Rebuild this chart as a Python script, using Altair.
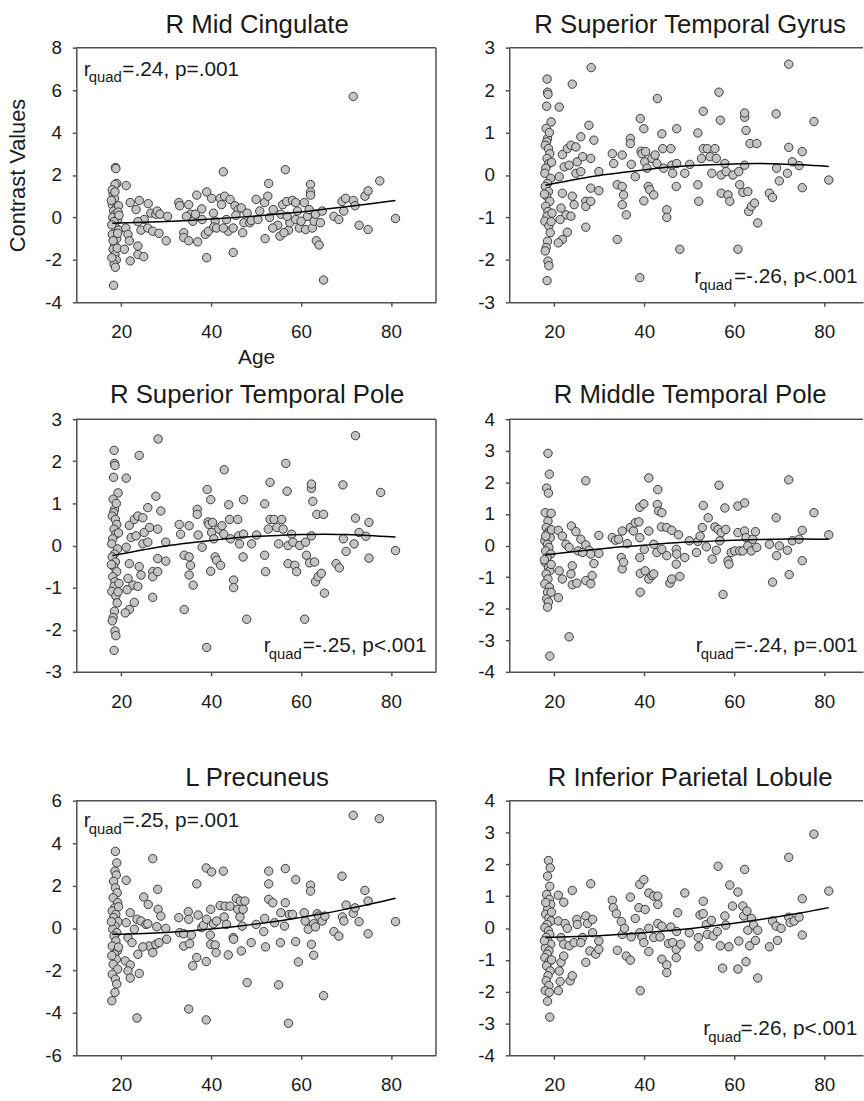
import altair as alt
import pandas as pd

FONT = "Liberation Sans"
INK = "#1a1a1a"
FRAME = "#505050"
DOT_FILL = "#c4c4c4"
DOT_EDGE = "#3a3a3a"

# ---- scatter values: [age, contrast value] ----
mid_cingulate = [
    [18.7, 2.35], [18.8, 2.3], [19.0, 1.6], [18.6, 1.55], [18.2, 1.1], [18.5, 0.9], [18.0, 0.6],
    [18.9, 0.45], [18.3, 0.3], [18.7, 0.15], [18.1, 0.0], [19.2, -0.1], [18.4, -0.2], [18.8, -0.5],
    [18.0, -0.8], [19.0, -1.0], [18.5, -1.3], [18.2, -1.5], [18.6, -1.75], [18.9, -2.0], [18.4, -2.2],
    [18.7, -2.35], [18.3, -3.2], [17.8, 0.8], [19.4, 0.55], [18.0, 1.3], [19.3, 0.25], [17.9, -0.35],
    [19.4, -0.6], [18.2, -1.1], [19.1, -1.45], [17.9, -1.9], [19.5, 0.1], [18.6, 1.2], [19.2, -0.75],
    [21.1, 1.5], [22.0, 0.7], [24.0, 0.8], [26.0, 0.65], [23.3, 0.37], [21.0, -0.5], [21.5, -0.8],
    [21.8, -1.1], [20.7, -1.5], [22.0, -2.05], [23.7, -1.75], [25.0, -1.85], [23.7, -1.35], [24.4, -0.6],
    [25.9, -0.5], [27.0, -0.65], [28.4, -0.75], [30.0, -1.1], [26.6, 0.2], [27.7, 0.15], [28.0, 0.3],
    [28.6, 0.15], [30.3, 0.05], [25.1, -0.1], [23.7, -0.2],
    [32.8, 0.7], [33.0, 0.55], [35.0, 0.6], [33.9, -0.72], [33.9, -0.95], [35.0, -1.1], [37.0, -1.15],
    [35.4, 0.15], [35.9, -0.18], [36.8, 1.05], [37.9, 0.4], [39.0, 1.2], [39.0, -1.9], [38.7, -0.8],
    [39.4, -0.65], [40.1, 0.9], [40.5, 0.2], [40.9, -0.18], [42.0, 0.9], [42.3, 0.6], [42.7, 2.15],
    [43.0, 1.0], [43.4, -0.1], [43.8, -0.65], [44.2, 0.85], [44.9, -1.65], [44.9, -0.5], [45.3, 0.55],
    [46.0, 0.37], [46.7, 0.45], [47.0, -0.72], [47.3, -0.25], [48.6, -0.25], [48.9, -0.15], [50.0, 0.85],
    [51.9, 0.7], [52.0, -1.0], [52.6, 1.0], [52.8, 1.6], [53.0, 0.0], [53.8, 0.37], [54.8, -0.37],
    [55.3, -0.88], [55.5, 0.15], [55.9, 0.6], [56.5, 2.25], [56.8, 0.75], [57.2, -0.6], [57.5, -0.25],
    [58.1, 0.8], [58.8, 0.7], [58.8, -0.1], [59.6, -0.5], [60.7, 0.7], [61.0, -0.57], [61.4, 0.05],
    [61.8, 0.37], [62.1, 1.55], [62.1, 1.2], [62.1, 1.05], [62.5, -0.5], [62.9, -0.18], [63.2, 0.15],
    [63.4, -1.1], [64.0, -1.3], [64.3, -0.25], [64.7, 0.3], [65.0, -2.95], [67.3, 0.05], [68.4, -0.1],
    [69.1, 0.75], [69.5, 0.3], [69.9, 0.9], [71.6, 5.7], [71.6, 0.8], [72.0, 0.55], [72.9, -0.37],
    [74.2, 1.0], [74.9, 1.25], [74.9, -0.57], [77.5, 1.72], [81.0, -0.05],
    [48.0, 0.2], [50.4, -0.1], [50.8, 0.3], [53.7, -0.5], [56.2, -0.72], [56.9, 0.05], [59.2, 0.3],
    [60.0, -0.18], [36.5, 0.15], [38.0, -0.1], [40.6, -0.45], [41.2, -0.5], [42.7, -0.5], [45.5, 0.1],
    [34.5, 0.05],
]

sup_temporal_gyrus = [
    [18.4, 2.26], [18.5, 1.95], [18.6, 1.9], [18.3, 1.62], [19.3, 1.25], [18.2, 1.1], [18.5, 0.86],
    [18.3, 0.78], [18.0, 0.7], [18.7, 0.62], [19.0, 0.5], [18.4, 0.39], [18.8, 0.27], [18.1, 0.16],
    [17.9, 0.04], [19.2, -0.08], [18.5, -0.2], [18.0, -0.27], [18.7, -0.39], [18.3, -0.5], [19.0, -0.62],
    [18.1, -0.74], [18.6, -0.86], [18.4, -0.97], [17.9, -1.09], [18.8, -1.2], [19.1, -1.36], [18.5, -1.56],
    [18.2, -1.71], [18.0, -1.79], [18.6, -2.03], [18.8, -2.14], [18.4, -2.49], [19.4, 0.3], [17.8, -0.45],
    [19.5, -0.9], [18.9, 1.0], [19.3, -1.1],
    [21.1, 1.6], [24.0, 2.14], [28.2, 2.53], [21.8, 0.48], [22.9, 0.62], [23.7, 0.7], [24.8, 0.66],
    [25.9, 0.9], [27.7, 1.17], [28.8, 0.82], [22.2, 0.19], [23.3, 0.23], [25.1, 0.31], [26.3, 0.43],
    [24.8, 0.04], [25.9, 0.08], [28.1, 0.39], [29.9, 0.08], [21.1, -0.04], [21.8, -0.43], [24.0, -0.5],
    [24.4, -0.7], [21.5, -0.78], [22.6, -0.94], [23.7, -0.97], [21.3, -1.05], [27.0, -0.62], [27.0, -0.74],
    [28.1, -0.62], [28.1, -0.31], [29.9, -0.37], [27.0, -1.23], [22.9, -1.35], [21.8, -1.52], [20.9, -1.6],
    [32.9, 0.5], [33.2, 0.27], [35.1, 0.47], [36.9, 0.86], [36.9, 0.74], [37.1, 0.25], [34.0, -0.23],
    [35.1, -0.27], [35.4, -0.47], [35.1, -0.7], [36.0, -0.94], [34.0, -1.52], [38.0, -0.04], [39.0, -2.42],
    [39.1, 1.33], [39.3, 0.56], [39.5, 0.5], [39.9, 1.09], [40.1, 0.31], [40.3, 0.55], [40.6, 0.16],
    [40.9, -0.27], [41.2, -0.35], [39.9, -0.61], [42.1, -0.47], [41.7, 0.39], [42.4, 0.47], [42.8, 0.27],
    [42.9, 1.8], [43.9, 0.97], [44.1, 0.62], [44.3, 0.16], [45.0, -0.82], [45.0, -1.0], [45.9, 0.62],
    [46.1, 0.23], [46.3, 0.04], [47.2, 1.09], [47.2, 0.27], [47.1, -0.27], [47.9, -1.75], [49.0, 0.04],
    [50.1, 0.25], [51.9, 0.99], [51.9, -0.23], [52.1, -0.62], [53.1, 1.5], [52.7, 0.39], [53.1, 0.62],
    [54.0, 0.62], [54.6, 0.43], [55.0, 0.04], [55.7, 0.62], [56.0, 0.39], [56.6, 1.95], [56.9, 1.29],
    [57.1, 0.0], [57.1, -0.43], [57.9, 0.27], [58.2, 0.08], [58.6, -0.47], [59.0, -0.62], [59.7, 0.0],
    [60.8, -1.75], [61.0, 0.08], [61.2, -0.23], [61.9, -0.41], [62.3, 1.36], [62.3, 1.46], [62.3, 0.23],
    [62.6, 1.05], [63.0, -0.39], [63.2, -0.86], [63.5, 0.74], [63.8, -0.74], [64.5, -0.66], [65.0, 0.74],
    [65.2, -1.13], [67.8, -0.43], [68.5, -0.53], [69.3, 1.44], [69.4, 0.16], [70.0, -0.14], [71.8, 0.04],
    [72.1, 2.61], [72.1, 0.65], [72.9, 0.31], [74.4, 0.22], [75.1, 0.55], [75.1, -0.3], [77.7, 1.26],
    [81.0, -0.12],
]

# the temporal pole cluster shows the same subject values
sup_temporal_pole = [list(p) for p in sup_temporal_gyrus]

mid_temporal_pole = [
    [18.6, 2.92], [18.9, 2.26], [18.3, 1.82], [18.7, 1.66], [18.0, 1.04], [19.3, 1.02], [18.6, 0.77],
    [18.2, 0.57], [18.9, 0.46], [18.4, 0.36], [19.1, 0.25], [17.9, 0.15], [18.5, 0.04], [18.8, -0.06],
    [18.1, -0.17], [19.2, -0.27], [18.4, -0.38], [18.0, -0.53], [18.7, -0.69], [19.0, -0.8], [18.2, -0.9],
    [18.6, -1.06], [17.9, -1.21], [18.9, -1.32], [18.5, -1.48], [18.3, -1.69], [18.7, -1.79], [18.5, -1.95],
    [19.0, -3.5], [19.4, 0.5], [17.8, -0.45], [19.3, -0.6], [18.1, 0.3],
    [20.9, -1.65], [19.3, -1.48], [23.3, -2.89], [27.0, 2.05], [20.9, 0.48], [21.8, 0.3], [22.6, 0.04],
    [23.3, -0.06], [23.8, 0.62], [24.8, 0.44], [25.9, 0.2], [27.0, 0.02], [27.7, -0.15], [28.1, -0.27],
    [28.8, -0.57], [29.9, 0.32], [29.9, -0.25], [21.1, -0.8], [21.8, -1.06], [24.0, -0.64], [24.0, -1.24],
    [23.7, -0.9], [25.0, -1.19], [27.0, -1.11], [28.1, -1.21], [28.4, -0.95], [25.3, -0.17], [26.3, -0.22],
    [32.9, 0.25], [33.6, 0.17], [34.3, 0.2], [35.1, 0.46], [34.9, -0.38], [35.1, -0.74], [35.4, -0.53],
    [36.2, 0.06], [36.9, 0.57], [37.6, 0.46], [38.0, 0.72], [38.8, 0.75], [39.0, 1.21], [39.0, 0.25],
    [39.0, -0.38], [39.1, -0.88], [39.1, -1.48], [39.9, 1.32], [40.0, -0.12], [40.2, -0.8], [41.0, 0.46],
    [41.0, 2.14], [41.0, -1.06], [41.7, -0.95], [42.1, -0.9], [42.1, 0.04], [42.8, -0.22], [43.0, 1.77],
    [42.9, 1.3], [43.2, 1.09], [43.9, 1.04], [43.8, 0.59], [43.9, -0.12], [45.0, 0.57], [45.0, -0.32],
    [45.7, -1.19], [46.1, 0.48], [46.1, -1.06], [47.1, -0.12], [47.1, -0.59], [47.2, -0.27], [47.6, 0.34],
    [47.9, -0.98], [49.0, -0.38], [50.0, 0.15], [51.6, -0.22], [51.9, 0.13], [52.4, 0.3], [52.9, 0.57],
    [53.1, 1.27], [53.8, -0.04], [54.2, 0.88], [55.1, -0.43], [55.7, 0.59], [56.0, -0.15], [56.4, 0.51],
    [56.6, 1.91], [56.8, 0.15], [57.1, 0.41], [57.5, -1.55], [57.9, 1.19], [58.1, 0.51], [58.6, -0.48],
    [58.8, -0.59], [59.3, -0.22], [60.1, -0.17], [60.8, 1.25], [60.8, 0.41], [61.2, -0.17], [61.9, -0.17],
    [62.3, 1.35], [62.3, 0.46], [62.6, 0.25], [63.0, -0.01], [63.8, -0.17], [64.1, 0.2], [64.7, 0.44],
    [65.0, -0.06], [67.8, 0.04], [68.5, -1.16], [69.3, 0.88], [69.4, -0.32], [70.0, -0.01], [71.8, -0.15],
    [72.1, 2.08], [72.2, -0.92], [72.9, 0.15], [74.4, 0.2], [75.1, 0.48], [75.1, -0.48], [77.7, 1.04],
    [81.0, 0.34],
]

precuneus = [
    [18.7, 3.61], [19.0, 3.07], [18.6, 2.68], [18.9, 2.49], [18.3, 2.2], [18.7, 1.89], [19.1, 1.66],
    [18.2, 1.42], [19.2, 1.19], [18.5, 0.95], [18.0, 0.8], [18.8, 0.64], [18.3, 0.49], [19.3, 0.3],
    [18.6, 0.09], [18.1, -0.06], [19.0, -0.22], [18.4, -0.38], [18.8, -0.61], [18.0, -0.85], [19.1, -1.08],
    [18.5, -1.24], [18.9, -1.47], [18.2, -1.71], [19.2, -1.94], [18.0, -2.18], [18.7, -2.41], [19.0, -2.64],
    [18.6, -3.04], [17.9, -3.43], [19.4, 1.0], [17.8, 0.3], [19.4, -0.9], [17.9, -1.3],
    [21.1, 2.25], [22.0, 0.72], [21.1, 0.25], [21.5, -0.45], [22.4, -0.69], [20.9, -1.55], [22.0, -1.74],
    [21.5, -2.02], [22.0, -2.36], [24.0, -2.14], [23.5, -4.24], [23.7, -1.24], [22.9, -0.06], [23.5, 0.41],
    [24.4, 0.33], [25.0, 1.46], [25.5, 0.17], [26.0, 1.11], [25.9, 0.2], [26.2, -0.85], [27.0, 3.27],
    [27.0, -1.16], [27.7, -0.77], [27.9, 0.06], [28.1, 1.82], [28.2, 0.88], [28.8, 0.56], [28.4, -0.69],
    [29.9, -0.02], [30.1, -0.53], [24.8, -0.89],
    [32.8, 0.49], [33.0, -0.22], [33.9, -0.27], [33.9, -0.85], [34.9, 0.77], [35.0, 0.41], [35.0, -3.82],
    [35.2, -0.74], [35.6, -0.33], [35.9, -1.78], [36.8, 2.08], [36.8, -1.39], [37.1, 0.61], [37.9, 0.02],
    [38.3, 0.13], [38.9, -1.58], [38.9, 2.83], [38.9, -4.33], [39.0, 0.41], [39.8, -0.33], [39.9, 0.88],
    [39.9, -0.77], [40.1, 2.64], [40.5, 0.2], [40.9, -0.8], [41.1, -1.16], [41.2, 0.33], [42.0, 1.06],
    [42.7, 2.68], [42.9, 0.52], [43.1, 1.03], [43.4, 0.17], [43.8, -1.27], [44.2, 1.03], [44.9, -0.45],
    [45.0, -0.53], [45.6, 1.39], [45.9, 0.88], [46.4, 0.52], [46.5, 1.27], [46.7, -1.08], [46.9, 0.09],
    [47.1, 0.88], [47.5, 1.27], [48.0, -2.57], [48.9, -0.69], [50.0, 0.17], [51.7, -0.17], [51.9, 0.45],
    [52.1, -0.89], [52.8, 2.68], [52.8, 2.08], [52.8, 1.35], [53.7, 1.19], [54.1, 0.25], [55.0, -2.68],
    [55.4, -0.69], [55.5, 0.72], [56.3, 0.09], [56.5, 2.8], [56.5, 1.19], [57.2, -4.49], [57.4, 0.64],
    [58.1, 0.64], [58.8, 2.28], [58.8, -0.64], [59.4, -1.6], [60.7, 0.72], [60.9, 0.33], [61.6, -0.06],
    [62.1, 2.02], [62.1, 1.74], [62.3, -0.77], [62.8, -1.28], [62.8, 0.2], [63.2, 0.05], [63.6, 0.67],
    [63.9, 0.56], [64.7, 0.33], [65.0, -3.19], [65.3, 0.56], [67.3, -0.17], [68.4, -0.38], [69.1, 2.44],
    [69.2, 0.52], [69.5, 0.33], [70.0, 1.08], [71.6, 5.31], [71.6, 0.69], [72.0, 0.95], [72.9, 0.3],
    [74.2, 1.77], [74.9, 1.27], [74.9, -0.27], [77.4, 5.15], [81.0, 0.3],
]

inf_parietal = [
    [18.7, 2.12], [19.1, 1.89], [18.5, 1.63], [19.0, 1.31], [18.3, 1.05], [18.9, 0.9], [19.2, 0.74],
    [18.5, 0.58], [18.1, 0.43], [18.8, 0.32], [19.3, 0.22], [18.4, 0.11], [17.9, 0.01], [18.7, -0.09],
    [19.0, -0.2], [18.2, -0.3], [18.6, -0.41], [19.2, -0.51], [18.0, -0.62], [18.8, -0.72], [18.4, -0.82],
    [17.9, -0.93], [18.9, -1.05], [18.3, -1.19], [19.1, -1.35], [18.6, -1.5], [18.2, -1.66], [18.8, -1.81],
    [18.0, -1.97], [18.9, -2.02], [18.5, -2.3], [19.0, -2.8], [19.4, 0.5], [17.8, -0.4], [19.4, -1.0],
    [18.1, 0.8],
    [20.9, 1.03], [22.1, 0.81], [24.0, 1.18], [20.9, 0.22], [22.4, 0.14], [22.9, -0.01], [21.5, -0.3],
    [22.1, -0.51], [23.3, -0.56], [24.4, -0.46], [25.0, 0.27], [25.1, 0.11], [26.3, -0.3], [27.0, 0.38],
    [27.4, 0.14], [28.1, 1.39], [28.5, 0.27], [28.5, -0.15], [27.9, -0.72], [27.0, -1.08], [29.2, -0.82],
    [29.9, -0.41], [29.9, -0.67], [21.5, -1.08], [22.1, -0.88], [21.1, -1.35], [21.3, -1.68], [20.9, -1.97],
    [23.5, -1.66], [24.0, -1.5], [25.9, -0.46],
    [32.9, 0.87], [33.1, 0.64], [33.8, 0.45], [34.0, -0.7], [34.9, 0.2], [35.1, -0.2], [35.6, -0.01],
    [36.0, -0.88], [36.9, 0.97], [36.9, -1.01], [37.1, -0.28], [38.0, 0.3], [38.8, 0.64], [39.0, 1.37],
    [39.0, -0.15], [39.1, -1.97], [39.5, -0.28], [39.9, 1.52], [39.9, -0.46], [40.2, 0.58], [41.0, -0.01],
    [41.0, -0.74], [41.0, 1.1], [42.1, -0.3], [42.1, 1.0], [43.0, 0.74], [43.0, 1.0], [43.0, 0.14],
    [43.5, -0.28], [43.9, 0.06], [43.9, -0.98], [45.0, -1.16], [45.0, -1.4], [45.4, -0.49], [45.9, 0.03],
    [46.3, -0.46], [47.1, -0.67], [47.1, -0.93], [47.2, -0.11], [47.4, 0.48], [48.1, -0.51], [49.0, 1.1],
    [50.0, -0.15], [52.0, -0.3], [52.1, -0.59], [52.4, 0.41], [53.1, 0.84], [53.1, 0.45], [53.8, 0.11],
    [54.0, -0.2], [54.9, 0.24], [55.3, -0.25], [56.2, -0.11], [56.4, 1.94], [56.9, -0.56], [57.4, -1.26],
    [57.9, 0.38], [58.1, 0.09], [58.8, -0.59], [59.0, 1.35], [59.6, 0.69], [60.8, 1.13], [60.8, -1.29],
    [61.0, -0.41], [61.9, 0.69], [62.1, 0.38], [62.3, 1.84], [62.6, -1.06], [62.8, 0.53], [63.0, -0.07],
    [63.4, -0.56], [63.8, 0.3], [64.3, 0.09], [64.7, -0.39], [65.2, -1.57], [65.2, -0.07], [67.8, -0.59],
    [68.5, 0.22], [69.3, 0.06], [69.6, -0.39], [70.4, -0.01], [72.1, 2.22], [72.1, 0.34], [72.4, 0.17],
    [73.3, 0.22], [74.4, 0.34], [75.1, 0.92], [75.1, -0.22], [77.7, 2.95], [81.0, 1.16],
]

# ---- quadratic fit curves, sampled at these ages ----
fit_ages = [18, 25, 30, 35, 40, 45, 50, 55, 60, 65, 70, 75, 81]
fit_mid_cingulate = [-0.27, -0.23, -0.19, -0.14, -0.08, -0.01, 0.07, 0.16, 0.26, 0.38, 0.50, 0.63, 0.80]
fit_sup_temporal_gyrus = [-0.24, -0.10, -0.01, 0.06, 0.12, 0.18, 0.22, 0.24, 0.26, 0.27, 0.26, 0.24, 0.20]
fit_sup_temporal_pole = [-0.24, -0.10, -0.01, 0.06, 0.12, 0.18, 0.22, 0.24, 0.26, 0.27, 0.26, 0.24, 0.20]
fit_mid_temporal_pole = [-0.30, -0.18, -0.11, -0.04, 0.01, 0.07, 0.11, 0.14, 0.17, 0.19, 0.20, 0.21, 0.20]
fit_precuneus = [-0.30, -0.26, -0.21, -0.14, -0.05, 0.06, 0.19, 0.33, 0.50, 0.68, 0.89, 1.11, 1.40]
fit_inf_parietal = [-0.30, -0.27, -0.24, -0.20, -0.15, -0.09, -0.02, 0.06, 0.15, 0.25, 0.36, 0.48, 0.64]

age_ticks = [20, 40, 60, 80]

LEFT_W, RIGHT_W = 363, 357
LEFT_X, RIGHT_X = [10, 90], [10, 88.6]


def one_row(text):
    return pd.DataFrame({"t": [text]})


def label(text, x, y, size, align="left"):
    return alt.Chart(one_row(text)).mark_text(
        align=align, baseline="alphabetic", font=FONT, fontSize=size, color=INK
    ).encode(x=alt.value(x), y=alt.value(y), text="t:N")


def stat_note(text, rx, qx, mx, base_y, sub_y):
    """r with a 'quad' subscript followed by the statistic."""
    return [label("r", rx, base_y, 21), label("quad", qx, sub_y, 15), label(text, mx, base_y, 21)]


def panel(title, title_y, pts, fit_vals, ydom, ystep, width, height, xdom, note,
          left_col=True, y_title=None, x_title=None):
    pts_df = pd.DataFrame(pts, columns=["age", "value"])
    fit_df = pd.DataFrame({"age": fit_ages, "value": fit_vals})
    yticks = list(range(ydom[0], ydom[1] + 1, ystep))

    x_enc = alt.X("age:Q", scale=alt.Scale(domain=xdom, nice=False, zero=False),
                  axis=alt.Axis(values=age_ticks, title=x_title))
    y_enc = alt.Y("value:Q", scale=alt.Scale(domain=ydom, nice=False, zero=False),
                  axis=alt.Axis(values=yticks, title=y_title, labelOverlap=False,
                                titleFontSize=22, labelExpr="'' + datum.value"))

    dots = alt.Chart(pts_df).mark_circle(
        size=72, fill=DOT_FILL, fillOpacity=1, stroke=DOT_EDGE, strokeWidth=1, opacity=1
    ).encode(x=x_enc, y=y_enc)
    curve = alt.Chart(fit_df).mark_line(
        color="#000000", strokeWidth=1.5, interpolate="monotone"
    ).encode(x=x_enc, y=y_enc)

    frame = [alt.Chart(one_row("")).mark_rule(color=FRAME, strokeWidth=1.5).encode(
        x=alt.value(0), x2=alt.value(width), y=alt.value(0))]
    if left_col:
        frame.append(alt.Chart(one_row("")).mark_rule(color=FRAME, strokeWidth=1.5).encode(
            x=alt.value(width), y=alt.value(0), y2=alt.value(height)))

    heading = label(title, 182.5, title_y, 26, align="center")

    return alt.layer(dots, curve, *frame, heading, *stat_note(*note)).properties(
        width=width, height=height)


def spacer(h):
    return alt.Chart(one_row("")).mark_point(opacity=0).encode(
        x=alt.value(0), y=alt.value(0)).properties(width=1, height=h)


p1 = panel("R Mid Cingulate", -15, mid_cingulate, fit_mid_cingulate, [-4, 8], 2, LEFT_W, 257, LEFT_X,
           ("=.24, p=.001", 7.5, 12.5, 46.5, 29, 35), y_title="Contrast Values", x_title="Age")
p2 = panel("R Superior Temporal Gyrus", -15, sup_temporal_gyrus, fit_sup_temporal_gyrus, [-3, 3], 1,
           RIGHT_W, 257, RIGHT_X, ("=-.26, p<.001", 186.7, 191.7, 226.7, 237.7, 244.3),
           left_col=False)
p3 = panel("R Superior Temporal Pole", -16.5, sup_temporal_pole, fit_sup_temporal_pole, [-3, 3], 1,
           LEFT_W, 255, LEFT_X, ("=-.25, p<.001", 189.3, 194.3, 228.6, 235, 241.7))
p4 = panel("R Middle Temporal Pole", -16.5, mid_temporal_pole, fit_mid_temporal_pole, [-4, 4], 1,
           RIGHT_W, 255, RIGHT_X, ("=-.24, p=.001", 188.3, 193.3, 226.7, 235, 241.7),
           left_col=False)
p5 = panel("L Precuneus", -15, precuneus, fit_precuneus, [-6, 6], 2, LEFT_W, 257, LEFT_X,
           ("=.25, p=.001", 7.6, 12.6, 46.6, 26.7, 33.3))
p6 = panel("R Inferior Parietal Lobule", -15, inf_parietal, fit_inf_parietal, [-4, 4], 1,
           RIGHT_W, 257, RIGHT_X, ("=.26, p<.001", 195.7, 200.7, 233.3, 236.7, 243.3),
           left_col=False)

chart = alt.concat(
    p1, p2,
    spacer(118), spacer(118),
    p3, p4,
    spacer(130), spacer(130),
    p5, p6,
    columns=2,
    bounds="flush",
    spacing=alt.RowColnumber(row=0, column=74),
).properties(
    padding={"left": 7, "top": 7, "right": 0, "bottom": 0},
).configure(
    font=FONT,
).configure_view(
    strokeWidth=0,
).configure_axis(
    grid=False,
    labelFont=FONT, labelFontSize=19, labelColor=INK,
    titleFont=FONT, titleFontSize=21, titleColor=INK, titleFontWeight="normal",
    domainColor=FRAME, domainWidth=1.5,
    tickColor=FRAME, tickWidth=1.5, tickSize=4,
).configure_axisX(
    labelPadding=17, titlePadding=5,
).configure_axisY(
    labelPadding=11, titlePadding=15,
)

chart.save("out.html", embed_options={"renderer": "svg", "actions": False})
